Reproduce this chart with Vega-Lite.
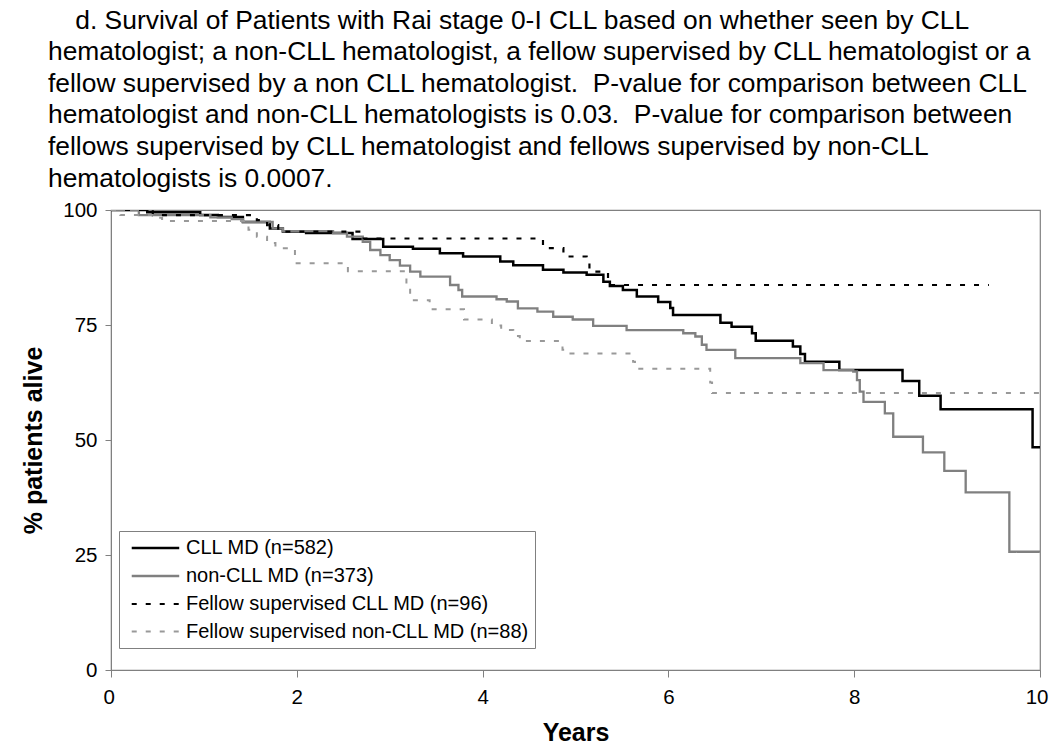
{
  "$schema": "https://vega.github.io/schema/vega-lite/v6.json",
  "width": 929,
  "height": 460,
  "autosize": "none",
  "padding": {"left": 111, "top": 210, "right": 10, "bottom": 76},
  "background": "white",
  "config": {
    "font": "Liberation Sans",
    "view": {"stroke": "#808080", "strokeWidth": 1.2}
  },
  "title": {
    "text": [
      "\u200b\u00a0\u00a0\u00a0\u2009d. Survival of Patients with Rai stage 0-I CLL based on whether seen by CLL",
      "hematologist; a non-CLL hematologist, a fellow supervised by CLL hematologist or a",
      "fellow supervised by a non CLL hematologist. \u00a0P-value for comparison between CLL",
      "hematologist and non-CLL hematologists is 0.03. \u00a0P-value for comparison between",
      "fellows supervised by CLL hematologist and fellows supervised by non-CLL",
      "hematologists is 0.0007."
    ],
    "anchor": "start",
    "frame": "group",
    "dx": -63,
    "offset": 8,
    "fontSize": 26.4,
    "fontWeight": "normal",
    "font": "Liberation Sans",
    "color": "#000000",
    "lineHeight": 31.6
  },
  "data": {
    "values": [
      {"group": "CLL MD (n=582)", "t": 0, "s": 100},
      {"group": "CLL MD (n=582)", "t": 0.39, "s": 99.5},
      {"group": "CLL MD (n=582)", "t": 0.96, "s": 98.9},
      {"group": "CLL MD (n=582)", "t": 1.15, "s": 98.5},
      {"group": "CLL MD (n=582)", "t": 1.42, "s": 97.4},
      {"group": "CLL MD (n=582)", "t": 1.71, "s": 96},
      {"group": "CLL MD (n=582)", "t": 1.85, "s": 95.3},
      {"group": "CLL MD (n=582)", "t": 2.1, "s": 95},
      {"group": "CLL MD (n=582)", "t": 2.6, "s": 93.7},
      {"group": "CLL MD (n=582)", "t": 2.93, "s": 92},
      {"group": "CLL MD (n=582)", "t": 3.25, "s": 91.6},
      {"group": "CLL MD (n=582)", "t": 3.54, "s": 90.6},
      {"group": "CLL MD (n=582)", "t": 3.79, "s": 89.9},
      {"group": "CLL MD (n=582)", "t": 4.19, "s": 88.8},
      {"group": "CLL MD (n=582)", "t": 4.33, "s": 88},
      {"group": "CLL MD (n=582)", "t": 4.65, "s": 87},
      {"group": "CLL MD (n=582)", "t": 4.87, "s": 86.4},
      {"group": "CLL MD (n=582)", "t": 5.12, "s": 85.9},
      {"group": "CLL MD (n=582)", "t": 5.3, "s": 84.4},
      {"group": "CLL MD (n=582)", "t": 5.37, "s": 83.5},
      {"group": "CLL MD (n=582)", "t": 5.51, "s": 82.6},
      {"group": "CLL MD (n=582)", "t": 5.66, "s": 81.2},
      {"group": "CLL MD (n=582)", "t": 5.89, "s": 80},
      {"group": "CLL MD (n=582)", "t": 6.02, "s": 78.7},
      {"group": "CLL MD (n=582)", "t": 6.05, "s": 77.2},
      {"group": "CLL MD (n=582)", "t": 6.56, "s": 75.5},
      {"group": "CLL MD (n=582)", "t": 6.68, "s": 74.6},
      {"group": "CLL MD (n=582)", "t": 6.9, "s": 73.2},
      {"group": "CLL MD (n=582)", "t": 6.94, "s": 71.6},
      {"group": "CLL MD (n=582)", "t": 7.34, "s": 70.3},
      {"group": "CLL MD (n=582)", "t": 7.42, "s": 68.7},
      {"group": "CLL MD (n=582)", "t": 7.47, "s": 67},
      {"group": "CLL MD (n=582)", "t": 7.84, "s": 65.2},
      {"group": "CLL MD (n=582)", "t": 8.52, "s": 62.8},
      {"group": "CLL MD (n=582)", "t": 8.7, "s": 59.6},
      {"group": "CLL MD (n=582)", "t": 8.93, "s": 56.7},
      {"group": "CLL MD (n=582)", "t": 9.92, "s": 48.4},
      {"group": "CLL MD (n=582)", "t": 10, "s": 48.4},

      {"group": "non-CLL MD (n=373)", "t": 0, "s": 100},
      {"group": "non-CLL MD (n=373)", "t": 0.3, "s": 98.9},
      {"group": "non-CLL MD (n=373)", "t": 1.07, "s": 98.4},
      {"group": "non-CLL MD (n=373)", "t": 1.3, "s": 98},
      {"group": "non-CLL MD (n=373)", "t": 1.42, "s": 97.4},
      {"group": "non-CLL MD (n=373)", "t": 1.74, "s": 96},
      {"group": "non-CLL MD (n=373)", "t": 1.85, "s": 95.4},
      {"group": "non-CLL MD (n=373)", "t": 2.39, "s": 95},
      {"group": "non-CLL MD (n=373)", "t": 2.54, "s": 94.2},
      {"group": "non-CLL MD (n=373)", "t": 2.71, "s": 93.1},
      {"group": "non-CLL MD (n=373)", "t": 2.79, "s": 91.3},
      {"group": "non-CLL MD (n=373)", "t": 2.9, "s": 90.2},
      {"group": "non-CLL MD (n=373)", "t": 3.0, "s": 89.1},
      {"group": "non-CLL MD (n=373)", "t": 3.11, "s": 87.9},
      {"group": "non-CLL MD (n=373)", "t": 3.22, "s": 86.6},
      {"group": "non-CLL MD (n=373)", "t": 3.33, "s": 85.5},
      {"group": "non-CLL MD (n=373)", "t": 3.65, "s": 83.7},
      {"group": "non-CLL MD (n=373)", "t": 3.74, "s": 82.6},
      {"group": "non-CLL MD (n=373)", "t": 3.78, "s": 81.2},
      {"group": "non-CLL MD (n=373)", "t": 4.15, "s": 80.6},
      {"group": "non-CLL MD (n=373)", "t": 4.26, "s": 80.1},
      {"group": "non-CLL MD (n=373)", "t": 4.38, "s": 78.6},
      {"group": "non-CLL MD (n=373)", "t": 4.59, "s": 77.9},
      {"group": "non-CLL MD (n=373)", "t": 4.76, "s": 76.8},
      {"group": "non-CLL MD (n=373)", "t": 4.97, "s": 76.2},
      {"group": "non-CLL MD (n=373)", "t": 5.19, "s": 74.8},
      {"group": "non-CLL MD (n=373)", "t": 5.55, "s": 73.9},
      {"group": "non-CLL MD (n=373)", "t": 6.16, "s": 73.2},
      {"group": "non-CLL MD (n=373)", "t": 6.29, "s": 72.5},
      {"group": "non-CLL MD (n=373)", "t": 6.36, "s": 70.7},
      {"group": "non-CLL MD (n=373)", "t": 6.41, "s": 69.6},
      {"group": "non-CLL MD (n=373)", "t": 6.72, "s": 67.8},
      {"group": "non-CLL MD (n=373)", "t": 7.42, "s": 66.7},
      {"group": "non-CLL MD (n=373)", "t": 7.67, "s": 65.2},
      {"group": "non-CLL MD (n=373)", "t": 7.99, "s": 64.9},
      {"group": "non-CLL MD (n=373)", "t": 8.03, "s": 63},
      {"group": "non-CLL MD (n=373)", "t": 8.06, "s": 60.5},
      {"group": "non-CLL MD (n=373)", "t": 8.1, "s": 58.3},
      {"group": "non-CLL MD (n=373)", "t": 8.33, "s": 55.8},
      {"group": "non-CLL MD (n=373)", "t": 8.42, "s": 50.7},
      {"group": "non-CLL MD (n=373)", "t": 8.74, "s": 47.3},
      {"group": "non-CLL MD (n=373)", "t": 8.97, "s": 43.3},
      {"group": "non-CLL MD (n=373)", "t": 9.2, "s": 38.6},
      {"group": "non-CLL MD (n=373)", "t": 9.67, "s": 25.7},
      {"group": "non-CLL MD (n=373)", "t": 10, "s": 25.7},

      {"group": "Fellow supervised CLL MD (n=96)", "t": 0, "s": 100},
      {"group": "Fellow supervised CLL MD (n=96)", "t": 0.45, "s": 98.9},
      {"group": "Fellow supervised CLL MD (n=96)", "t": 1.57, "s": 97.8},
      {"group": "Fellow supervised CLL MD (n=96)", "t": 1.68, "s": 96.7},
      {"group": "Fellow supervised CLL MD (n=96)", "t": 1.8, "s": 95.3},
      {"group": "Fellow supervised CLL MD (n=96)", "t": 2.7, "s": 93.8},
      {"group": "Fellow supervised CLL MD (n=96)", "t": 4.65, "s": 91.7},
      {"group": "Fellow supervised CLL MD (n=96)", "t": 4.87, "s": 89.9},
      {"group": "Fellow supervised CLL MD (n=96)", "t": 5.12, "s": 88.8},
      {"group": "Fellow supervised CLL MD (n=96)", "t": 5.15, "s": 86.6},
      {"group": "Fellow supervised CLL MD (n=96)", "t": 5.35, "s": 83.7},
      {"group": "Fellow supervised CLL MD (n=96)", "t": 9.45, "s": 83.7},

      {"group": "Fellow supervised non-CLL MD (n=88)", "t": 0, "s": 100},
      {"group": "Fellow supervised non-CLL MD (n=88)", "t": 0.1, "s": 98.9},
      {"group": "Fellow supervised non-CLL MD (n=88)", "t": 0.45, "s": 98.3},
      {"group": "Fellow supervised non-CLL MD (n=88)", "t": 0.55, "s": 97.6},
      {"group": "Fellow supervised non-CLL MD (n=88)", "t": 1.48, "s": 95.7},
      {"group": "Fellow supervised non-CLL MD (n=88)", "t": 1.57, "s": 94.2},
      {"group": "Fellow supervised non-CLL MD (n=88)", "t": 1.68, "s": 92.8},
      {"group": "Fellow supervised non-CLL MD (n=88)", "t": 1.77, "s": 91.7},
      {"group": "Fellow supervised non-CLL MD (n=88)", "t": 1.98, "s": 88.4},
      {"group": "Fellow supervised non-CLL MD (n=88)", "t": 2.55, "s": 86.7},
      {"group": "Fellow supervised non-CLL MD (n=88)", "t": 3.18, "s": 83.1},
      {"group": "Fellow supervised non-CLL MD (n=88)", "t": 3.22, "s": 80.4},
      {"group": "Fellow supervised non-CLL MD (n=88)", "t": 3.43, "s": 78.4},
      {"group": "Fellow supervised non-CLL MD (n=88)", "t": 3.8, "s": 76.2},
      {"group": "Fellow supervised non-CLL MD (n=88)", "t": 4.1, "s": 74.9},
      {"group": "Fellow supervised non-CLL MD (n=88)", "t": 4.2, "s": 73.9},
      {"group": "Fellow supervised non-CLL MD (n=88)", "t": 4.33, "s": 72.6},
      {"group": "Fellow supervised non-CLL MD (n=88)", "t": 4.4, "s": 71.5},
      {"group": "Fellow supervised non-CLL MD (n=88)", "t": 4.86, "s": 69.6},
      {"group": "Fellow supervised non-CLL MD (n=88)", "t": 4.9, "s": 68.8},
      {"group": "Fellow supervised non-CLL MD (n=88)", "t": 5.62, "s": 67},
      {"group": "Fellow supervised non-CLL MD (n=88)", "t": 5.64, "s": 65.5},
      {"group": "Fellow supervised non-CLL MD (n=88)", "t": 6.45, "s": 62.5},
      {"group": "Fellow supervised non-CLL MD (n=88)", "t": 6.47, "s": 60.2},
      {"group": "Fellow supervised non-CLL MD (n=88)", "t": 10, "s": 60.2}
    ]
  },
  "mark": {"type": "line", "interpolate": "step-after", "clip": true},
  "encoding": {
    "x": {
      "field": "t",
      "type": "quantitative",
      "scale": {"domain": [0, 10], "nice": false, "zero": false},
      "axis": {
        "values": [0, 2, 4, 6, 8, 10],
        "title": "Years",
        "grid": false,
        "domainColor": "#808080",
        "tickColor": "#808080",
        "tickSize": 7,
        "labelFontSize": 20.5,
        "labelColor": "#000000",
        "labelPadding": 10,
        "labelFlush": true,
        "labelFlushOffset": 8,
        "titleFontSize": 25,
        "titleFontWeight": "bold",
        "titleColor": "#000000",
        "titlePadding": 13
      }
    },
    "y": {
      "field": "s",
      "type": "quantitative",
      "scale": {"domain": [0, 100], "nice": false},
      "axis": {
        "values": [0, 25, 50, 75, 100],
        "title": "% patients alive",
        "grid": false,
        "domainColor": "#808080",
        "tickColor": "#808080",
        "tickSize": 6,
        "labelFontSize": 20.5,
        "labelColor": "#000000",
        "labelPadding": 8,
        "titleFontSize": 25,
        "titleFontWeight": "bold",
        "titleColor": "#000000",
        "titlePadding": 16
      }
    },
    "color": {
      "field": "group",
      "type": "nominal",
      "scale": {
        "domain": ["CLL MD (n=582)", "non-CLL MD (n=373)", "Fellow supervised CLL MD (n=96)", "Fellow supervised non-CLL MD (n=88)"],
        "range": ["#000000", "#808080", "#000000", "#999999"]
      },
      "legend": {
        "title": null,
        "orient": "none",
        "legendX": 8,
        "legendY": 321,
        "strokeColor": "#808080",
        "fillColor": "#ffffff",
        "padding": 6,
        "rowPadding": 7,
        "labelFontSize": 20,
        "labelLimit": 500,
        "labelColor": "#000000",
        "labelOffset": 39,
        "symbolType": "M-0.45,0H4.55",
        "symbolSize": 361,
        "symbolStrokeWidth": 2.5
      }
    },
    "strokeDash": {
      "field": "group",
      "type": "nominal",
      "scale": {
        "domain": ["CLL MD (n=582)", "non-CLL MD (n=373)", "Fellow supervised CLL MD (n=96)", "Fellow supervised non-CLL MD (n=88)"],
        "range": [[1, 0], [1, 0], [5, 9], [5, 9]]
      },
      "legend": {
        "title": null,
        "orient": "none",
        "legendX": 8,
        "legendY": 321,
        "strokeColor": "#808080",
        "fillColor": "#ffffff",
        "padding": 6,
        "rowPadding": 7,
        "labelFontSize": 20,
        "labelLimit": 500,
        "labelColor": "#000000",
        "labelOffset": 39,
        "symbolType": "M-0.45,0H4.55",
        "symbolSize": 361,
        "symbolStrokeWidth": 2.5
      }
    },
    "strokeWidth": {
      "field": "group",
      "type": "nominal",
      "scale": {
        "domain": ["CLL MD (n=582)", "non-CLL MD (n=373)", "Fellow supervised CLL MD (n=96)", "Fellow supervised non-CLL MD (n=88)"],
        "range": [2.5, 2, 3.2, 3]
      },
      "legend": null
    }
  }
}
